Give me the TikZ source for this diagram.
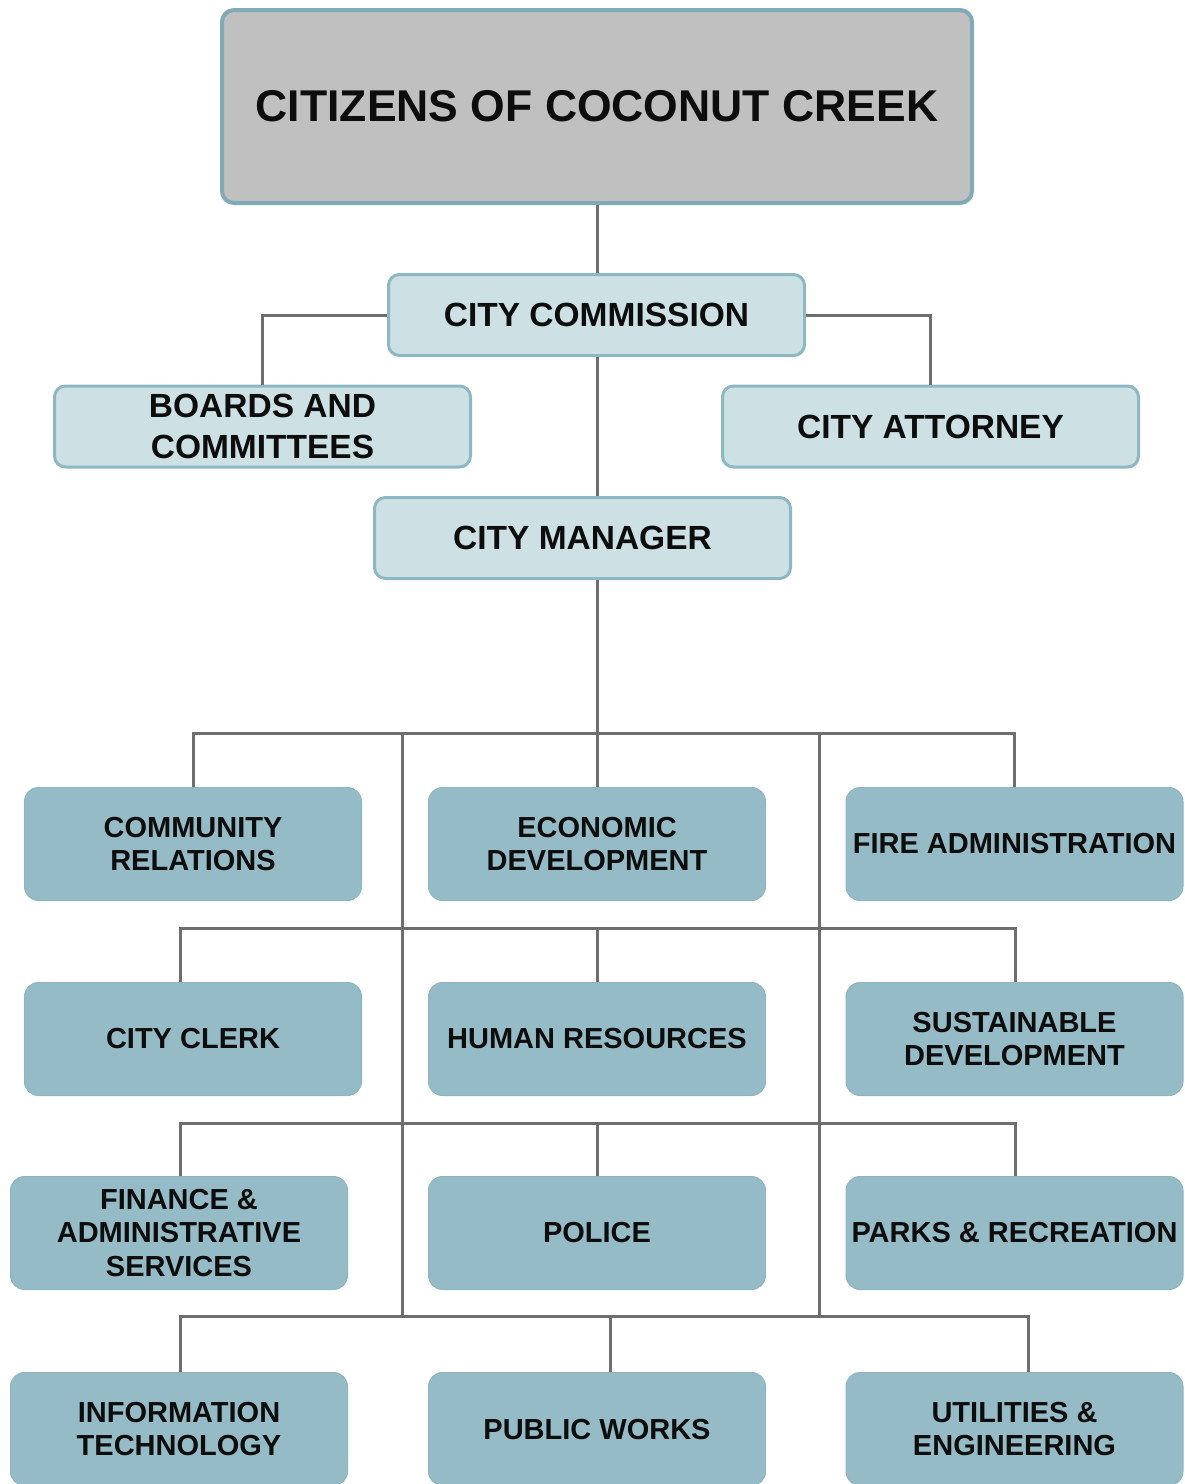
\documentclass[tikz,border=0pt]{standalone}
\usepackage{fontspec}
\setmainfont{Liberation Sans}
\definecolor{citgray}{HTML}{C0C0C0}
\definecolor{bordblue}{HTML}{80AAB6}
\definecolor{lightbox}{HTML}{CDE1E5}
\definecolor{bord2}{HTML}{8DB8C3}
\definecolor{deptblue}{HTML}{95BCC6}
\definecolor{deptedge}{HTML}{8EB6C0}
\definecolor{linegray}{HTML}{6E6E6E}
\definecolor{txt}{HTML}{0D0D0D}
\begin{document}
\begin{tikzpicture}[x=1pt,y=-1pt,
  topbox/.style={draw=bordblue, line width=4pt, fill=citgray, rounded corners=12pt,
    minimum width=750pt, minimum height=193pt, inner sep=0pt, text=txt,
    font=\fontsize{44.5}{50}\selectfont\bfseries},
  lvlbox/.style={draw=bord2, line width=3pt, fill=lightbox, rounded corners=11pt,
    minimum width=416pt, minimum height=81pt, inner sep=0pt, align=center, text=txt,
    font=\fontsize{33.5}{41}\selectfont\bfseries},
  deptbox/.style={fill=deptblue, draw=deptedge, line width=1pt, rounded corners=14pt,
    minimum width=337pt, minimum height=113pt, inner sep=0pt, align=center, text=txt,
    font=\fontsize{29}{33.5}\selectfont\bfseries},
  conn/.style={draw=linegray, line width=3pt}]
\useasboundingbox (0,0) rectangle (1185,1484);

% top levels
\node[topbox] (cit) at (597,106.5) {CITIZENS OF COCONUT CREEK};
\node[lvlbox] (cc) at (596.5,315) {CITY COMMISSION};
\node[lvlbox] (bc) at (262.5,426.5) {BOARDS AND\\COMMITTEES};
\node[lvlbox] (ca) at (930.5,426.5) {CITY ATTORNEY};
\node[lvlbox] (cm) at (582.5,538) {CITY MANAGER};

% departments
\node[deptbox] (cr) at (193,844) {COMMUNITY\\RELATIONS};
\node[deptbox] (ed) at (597,844) {ECONOMIC\\DEVELOPMENT};
\node[deptbox] (fa) at (1014.5,844) {FIRE ADMINISTRATION};
\node[deptbox] (ck) at (193,1039) {CITY CLERK};
\node[deptbox] (hr) at (597,1039) {HUMAN RESOURCES};
\node[deptbox] (sd) at (1014.5,1039) {SUSTAINABLE\\DEVELOPMENT};
\node[deptbox] (fi) at (179,1233) {FINANCE \&\\ADMINISTRATIVE\\SERVICES};
\node[deptbox] (po) at (597,1233) {POLICE};
\node[deptbox] (pr) at (1014.5,1233) {PARKS \& RECREATION};
\node[deptbox] (it) at (179,1429) {INFORMATION\\TECHNOLOGY};
\node[deptbox] (pw) at (597,1429) {PUBLIC WORKS};
\node[deptbox] (ue) at (1014.5,1429) {UTILITIES \&\\ENGINEERING};

% junction coordinates
\coordinate (x1) at (597,0);
\coordinate (bus1) at (597,733);
\coordinate (tl) at (402,733);
\coordinate (tr) at (819,733);
\coordinate (tlb) at (402,1316);
\coordinate (trb) at (819,1316);
\coordinate (b2a) at (180,928);
\coordinate (b2b) at (597,928);
\coordinate (b2c) at (1015,928);
\coordinate (b3a) at (180,1123);
\coordinate (b3b) at (597,1123);
\coordinate (b3c) at (1015,1123);
\coordinate (b4a) at (180,1316);
\coordinate (b4b) at (610,1316);
\coordinate (b4c) at (1028,1316);

% connectors upper part
\draw[conn] (cit.south -| x1) -- (cc.north -| x1);
\draw[conn] (cc.west) -| (bc.north);
\draw[conn] (cc.east) -| (ca.north);
\draw[conn] (cc.south -| x1) -- (cm.north -| x1);
\draw[conn] (cm.south -| x1) -- (bus1);

% first bus
\draw[conn] (cr.north) |- (bus1) -| (fa.north);
\draw[conn] (bus1) -- (ed.north);
\draw[conn] (tl) -- (tlb);
\draw[conn] (tr) -- (trb);

% second bus
\draw[conn] (ck.north -| b2a) -- (b2a) -- (b2c) -- (sd.north -| b2c);
\draw[conn] (b2b) -- (hr.north -| b2b);

% third bus
\draw[conn] (fi.north -| b3a) -- (b3a) -- (b3c) -- (pr.north -| b3c);
\draw[conn] (b3b) -- (po.north -| b3b);

% fourth bus
\draw[conn] (it.north -| b4a) -- (b4a) -- (b4c) -- (ue.north -| b4c);
\draw[conn] (b4b) -- (pw.north -| b4b);
\end{tikzpicture}
\end{document}
